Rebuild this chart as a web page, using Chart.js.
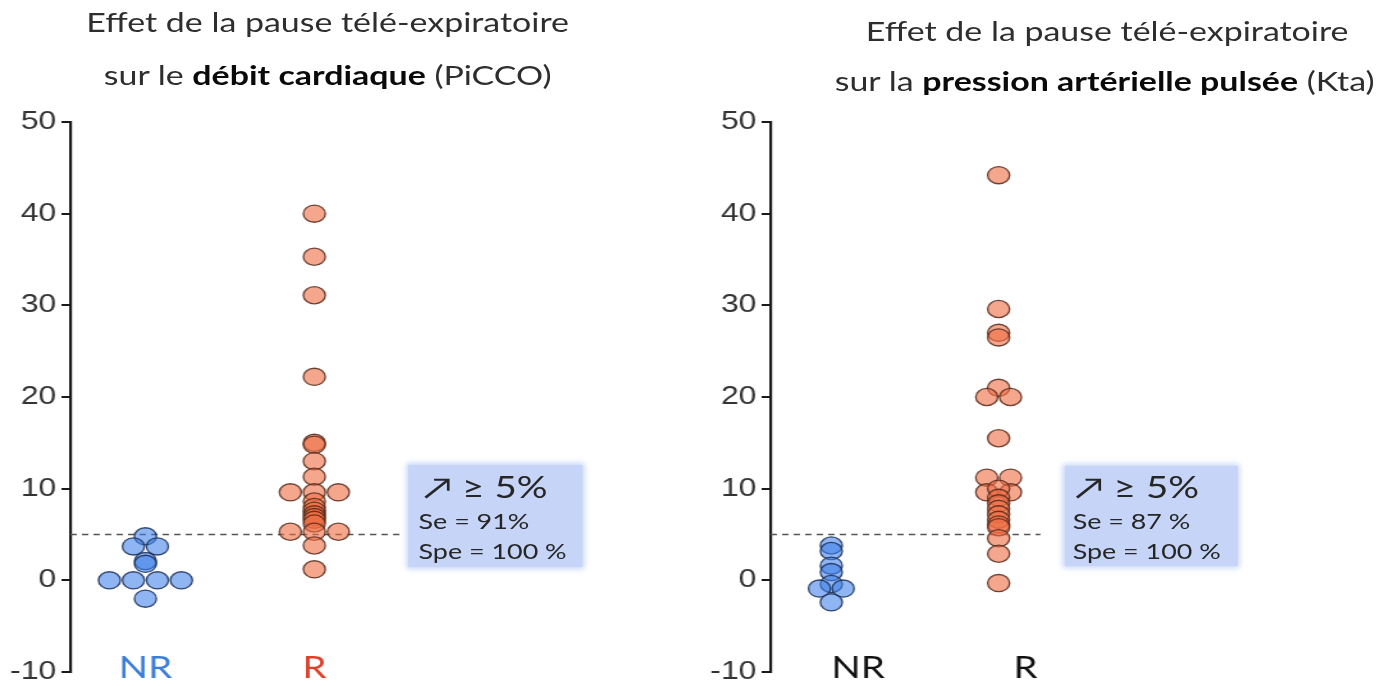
<!DOCTYPE html>
<html>
<head>
<meta charset="utf-8">
<script src="https://cdn.jsdelivr.net/npm/chart.js@4/dist/chart.umd.min.js"></script>
<style>
  html, body { margin: 0; padding: 0; background: #fff; width: 1388px; height: 686px; overflow: hidden; }
  /* the whole figure is laid out narrow, then widened horizontally */
  #stage { position: absolute; left: 0; top: 0; width: 1085px; height: 686px; transform: scaleX(1.28); transform-origin: 0 0; }
  canvas { position: absolute; top: 0; }
  #debit { left: 0; }
  #pression { left: 542px; }
  .t { position: absolute; width: 600px; text-align: center; font-family: Lato, "Open Sans", sans-serif; font-size: 26.5px; line-height: 26px; color: #2e2e2e; white-space: nowrap; }
  .t b { color: #0a0a0a; font-weight: 700; }
  .box { position: absolute; background: #c6d5f7; box-shadow: 0 0 5px 2px #c6d5f7; font-family: Lato, "Open Sans", sans-serif; color: #262626; }
  .box div { position: absolute; white-space: nowrap; }
  .box .big { font-size: 30px; line-height: 30px; }
  .box .small { font-size: 21px; line-height: 21px; }
</style>
</head>
<body>
<div id="stage">
  <div class="t" style="left:-44px; top:9px;">Effet de la pause télé-expiratoire</div>
  <div class="t" style="left:-44px; top:62px;">sur le <b>débit cardiaque</b> (PiCCO)</div>
  <div class="t" style="left:565px; top:18px;">Effet de la pause télé-expiratoire</div>
  <div class="t" style="left:563px; top:68px;">sur la <b>pression artérielle pulsée</b> (Kta)</div>

  <canvas id="debit" width="542" height="691"></canvas>
  <canvas id="pression" width="543" height="691"></canvas>

  <div class="box" style="left:319px; top:465px; width:136px; height:102px;">
    <div class="big" style="left:12px; top:6px;">↗ ≥ 5%</div>
    <div class="small" style="left:8px; top:45px;">Se = 91%</div>
    <div class="small" style="left:8px; top:75px;">Spe = 100 %</div>
  </div>
  <div class="box" style="left:832px; top:466px; width:135px; height:100px;">
    <div class="big" style="left:8px; top:5px;">↗ ≥ 5%</div>
    <div class="small" style="left:6px; top:44px;">Se = 87 %</div>
    <div class="small" style="left:6px; top:74px;">Spe = 100 %</div>
  </div>
</div>

<script>
// Responder threshold (% change during the end-expiratory pause)
const THRESHOLD = 5;

const categories = ['NR', 'R'];
const yTickMin = -10;
const yTickMax = 50;
const yTickStep = 10;

// Cardiac output change (PiCCO), %
const debitNR = [4.8, 3.7, 3.7, 2.1, 1.8, 0, 0, 0, 0, -2.0];
const debitR = [40.0, 35.3, 31.1, 22.2, 15.0, 14.8, 13.0, 11.3, 9.6, 9.6, 9.6,
                8.6, 8.0, 7.6, 7.2, 6.9, 6.6, 6.2, 5.3, 5.3, 5.3, 3.8, 1.2];

// Pulse pressure change (arterial line), %
const pressionNR = [3.8, 3.2, 1.6, 0.9, -0.4, -0.9, -0.9, -2.4];
const pressionR = [44.2, 29.6, 27.0, 26.5, 21.0, 20.0, 20.0, 15.5, 11.2, 11.2, 9.6, 9.6,
                   10.0, 9.0, 8.4, 7.8, 7.2, 6.6, 6.1, 5.8, 4.6, 2.9, -0.3];

// horizontal spacing between tied values, in category units
const SPREAD = 0.142;

// Scatter-dot layout: identical values are spread side by side around the category centre
function swarm(values, center) {
  const counts = {}, seen = {};
  values.forEach(v => { counts[v] = (counts[v] || 0) + 1; });
  return values.map(v => {
    seen[v] = (seen[v] === undefined) ? 0 : seen[v] + 1;
    return { x: center + (seen[v] - (counts[v] - 1) / 2) * SPREAD, y: v };
  });
}

// Group names written just above the bottom of the value axis, under each column
const categoryLabels = {
  id: 'categoryLabels',
  afterDraw(chart, args, o) {
    const { ctx, scales: { x, y } } = chart;
    ctx.save();
    ctx.font = '30px Lato, "Open Sans", sans-serif';
    ctx.textAlign = 'center';
    ctx.textBaseline = 'middle';
    categories.forEach((c, i) => {
      ctx.fillStyle = o.colors[i];
      ctx.fillText(c, x.getPixelForValue(i + 1) + o.offset, y.getPixelForValue(yTickMin) - 4);
    });
    ctx.restore();
  }
};

const blueFill = 'rgba(62,128,232,0.58)';
const blueEdge = 'rgba(25,45,85,0.85)';
const redFill = 'rgba(238,108,66,0.6)';
const redEdge = 'rgba(85,40,25,0.85)';

function makePanel(id, nr, r, opt) {
  new Chart(document.getElementById(id), {
    type: 'scatter',
    data: {
      datasets: [
        {
          type: 'line',
          data: [{ x: opt.xMin, y: THRESHOLD }, { x: opt.lineEnd, y: THRESHOLD }],
          borderColor: '#555',
          borderWidth: 1.5,
          borderDash: [5, 4],
          pointRadius: 0,
          order: 5
        },
        {
          data: swarm(nr, 1),
          backgroundColor: blueFill,
          borderColor: blueEdge,
          borderWidth: 1.3,
          pointRadius: 8.6,
          order: 1
        },
        {
          data: swarm(r, 2),
          backgroundColor: redFill,
          borderColor: redEdge,
          borderWidth: 1.3,
          pointRadius: 8.6,
          order: 1
        }
      ]
    },
    plugins: [categoryLabels],
    options: {
      responsive: false,
      animation: false,
      layout: { padding: { top: 122, left: 0, right: 0, bottom: 0 } },
      plugins: {
        legend: { display: false },
        tooltip: { enabled: false },
        categoryLabels: { colors: opt.labelColors, offset: opt.labelOffset }
      },
      scales: {
        x: {
          type: 'linear',
          min: opt.xMin,
          max: opt.xMax,
          afterFit: s => { s.height = 15; },
          grid: { display: false, drawTicks: false },
          border: { display: false },
          ticks: { display: false }
        },
        y: {
          min: yTickMin,
          max: yTickMax,
          afterFit: s => { s.width = opt.axisX; },
          ticks: {
            stepSize: yTickStep,
            padding: 4,
            color: '#333',
            font: { family: 'Liberation Sans', size: 25 }
          },
          grid: { drawOnChartArea: false, drawTicks: true, tickLength: 7, color: '#1a1a1a', lineWidth: 2 },
          border: { color: '#1a1a1a', width: 2.2 }
        }
      }
    }
  });
}

makePanel('debit', debitNR, debitR, {
  axisX: 55, xMin: 0.556, xMax: 4.171, lineEnd: 2.509, labelOffset: 0,
  labelColors: ['#3b7dd8', '#e0402a']
});

makePanel('pression', pressionNR, pressionR, {
  axisX: 60, xMin: 0.637, xMax: 4.256, lineEnd: 2.25, labelOffset: 21,
  labelColors: ['#111', '#111']
});
</script>
</body>
</html>
